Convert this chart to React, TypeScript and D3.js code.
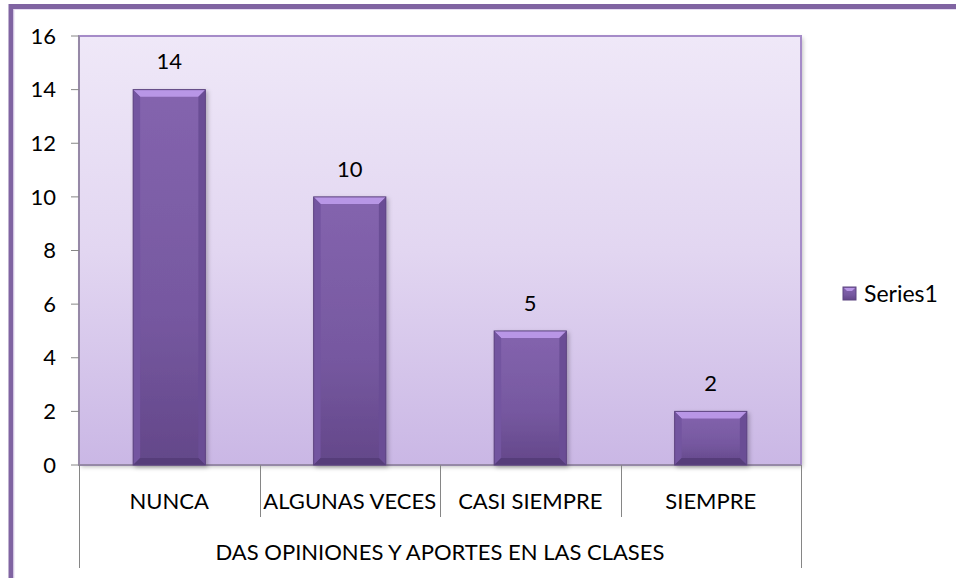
import React, { useRef, useEffect } from "react";
import { select, scaleLinear, scaleBand, range } from "d3";

const categories = ["NUNCA", "ALGUNAS VECES", "CASI SIEMPRE", "SIEMPRE"];
const values = [14, 10, 5, 2];
const yTicks = [0, 2, 4, 6, 8, 10, 12, 14, 16];
const groupLabel = "DAS OPINIONES Y APORTES EN LAS CLASES";
const seriesName = "Series1";

const FONT = "Lato, 'Open Sans', sans-serif";

const App = () => {
  const svgRef = useRef<SVGSVGElement>(null);

  useEffect(() => {
    const width = 956;
    const height = 578;
    const plot = { left: 79, top: 36, right: 801, bottom: 465 };

    const svg = select(svgRef.current).attr("width", width).attr("height", height);
    svg.selectAll("*").remove();

    const defs = svg.append("defs");

    const bg = defs
      .append("linearGradient")
      .attr("id", "plotBg")
      .attr("x1", 0)
      .attr("y1", 0)
      .attr("x2", 0)
      .attr("y2", 1);
    bg.append("stop").attr("offset", "0%").attr("stop-color", "#efe8f8");
    bg.append("stop").attr("offset", "50%").attr("stop-color", "#e2d6f1");
    bg.append("stop").attr("offset", "100%").attr("stop-color", "#cab7e5");

    const barGrad = defs
      .append("linearGradient")
      .attr("id", "barFill")
      .attr("x1", 0)
      .attr("y1", 0)
      .attr("x2", 0)
      .attr("y2", 1);
    barGrad.append("stop").attr("offset", "0%").attr("stop-color", "#8464ae");
    barGrad.append("stop").attr("offset", "60%").attr("stop-color", "#7658a0");
    barGrad.append("stop").attr("offset", "100%").attr("stop-color", "#634789");

    const shadow = defs
      .append("filter")
      .attr("id", "shadow")
      .attr("x", "-10%")
      .attr("y", "-10%")
      .attr("width", "130%")
      .attr("height", "130%");
    shadow
      .append("feDropShadow")
      .attr("dx", 2)
      .attr("dy", 2)
      .attr("stdDeviation", 2)
      .attr("flood-color", "#000")
      .attr("flood-opacity", 0.25);

    // outer frame of the chart area
    svg
      .append("rect")
      .attr("x", 11)
      .attr("y", 6.5)
      .attr("width", width + 20)
      .attr("height", height + 20)
      .attr("fill", "#fff")
      .attr("stroke", "#8064a2")
      .attr("stroke-width", 5);
    svg
      .append("rect")
      .attr("x", 14)
      .attr("y", 9.5)
      .attr("width", width + 20)
      .attr("height", height + 20)
      .attr("fill", "none")
      .attr("stroke", "#e6dcf2")
      .attr("stroke-width", 1);

    const x = scaleBand()
      .domain(categories)
      .range([plot.left, plot.right])
      .paddingInner(0.6)
      .paddingOuter(0.3);

    const band = scaleBand().domain(categories).range([plot.left, plot.right]);

    const y = scaleLinear().domain([0, 16]).range([plot.bottom, plot.top]);

    // plot area
    svg
      .append("rect")
      .attr("x", plot.left)
      .attr("y", plot.top)
      .attr("width", plot.right - plot.left)
      .attr("height", plot.bottom - plot.top)
      .attr("fill", "url(#plotBg)")
      .attr("filter", "url(#shadow)");
    svg
      .append("rect")
      .attr("x", plot.left)
      .attr("y", plot.top)
      .attr("width", plot.right - plot.left)
      .attr("height", plot.bottom - plot.top)
      .attr("fill", "none")
      .attr("stroke", "#a58bc8")
      .attr("stroke-width", 2);

    // y axis
    const yAxis = svg.append("g");
    yAxis
      .append("line")
      .attr("x1", plot.left)
      .attr("x2", plot.left)
      .attr("y1", plot.top)
      .attr("y2", plot.bottom)
      .attr("stroke", "#868686");
    yAxis
      .selectAll(".tick")
      .data(yTicks)
      .join("line")
      .attr("x1", plot.left - 8)
      .attr("x2", plot.left)
      .attr("y1", (d) => y(d))
      .attr("y2", (d) => y(d))
      .attr("stroke", "#868686");
    yAxis
      .selectAll(".lbl")
      .data(yTicks)
      .join("text")
      .attr("x", 56)
      .attr("y", (d) => y(d))
      .attr("dy", "0.35em")
      .attr("text-anchor", "end")
      .attr("font-family", FONT)
      .attr("font-size", 22)
      .attr("fill", "#000")
      .text((d) => d);

    // x axis with category dividers
    const xAxis = svg.append("g");
    xAxis
      .append("line")
      .attr("x1", plot.left)
      .attr("x2", plot.right)
      .attr("y1", plot.bottom)
      .attr("y2", plot.bottom)
      .attr("stroke", "#868686");
    const edges = range(categories.length + 1).map((i) =>
      i < categories.length ? band(categories[i])! : plot.right
    );
    xAxis
      .selectAll(".div")
      .data(edges)
      .join("line")
      .attr("x1", (d) => Math.round(d) + 0.5)
      .attr("x2", (d) => Math.round(d) + 0.5)
      .attr("y1", plot.bottom)
      .attr("y2", (d, i) => (i === 0 || i === categories.length ? 568 : 517))
      .attr("stroke", "#868686");
    xAxis
      .selectAll(".cat")
      .data(categories)
      .join("text")
      .attr("x", (d) => band(d)! + band.bandwidth() / 2)
      .attr("y", 501)
      .attr("dy", "0.35em")
      .attr("text-anchor", "middle")
      .attr("font-family", FONT)
      .attr("font-size", 22)
      .attr("fill", "#000")
      .text((d) => d);
    xAxis
      .append("text")
      .attr("x", (plot.left + plot.right) / 2)
      .attr("y", 552)
      .attr("dy", "0.35em")
      .attr("text-anchor", "middle")
      .attr("font-family", FONT)
      .attr("font-size", 22)
      .attr("fill", "#000")
      .text(groupLabel);

    // bars with bevel
    const bars = svg
      .selectAll(".bar")
      .data(values)
      .join("g")
      .attr("class", "bar")
      .attr("filter", "url(#shadow)");

    bars.each(function (v, i) {
      const g = select(this);
      const bx = x(categories[i])!;
      const bw = x.bandwidth();
      const by = y(v);
      const bh = y(0) - y(v);
      const b = Math.min(7, bh / 2);
      g.append("rect")
        .attr("x", bx)
        .attr("y", by)
        .attr("width", bw)
        .attr("height", bh)
        .attr("fill", "url(#barFill)");
      g.append("polygon")
        .attr(
          "points",
          `${bx},${by} ${bx + bw},${by} ${bx + bw - b},${by + b} ${bx + b},${by + b}`
        )
        .attr("fill", "#b896e6");
      g.append("polygon")
        .attr(
          "points",
          `${bx},${by} ${bx + b},${by + b} ${bx + b},${by + bh - b} ${bx},${by + bh}`
        )
        .attr("fill", "#7354a0");
      g.append("polygon")
        .attr(
          "points",
          `${bx + bw},${by} ${bx + bw - b},${by + b} ${bx + bw - b},${by + bh - b} ${bx + bw},${by + bh}`
        )
        .attr("fill", "#6b4e95");
      g.append("polygon")
        .attr(
          "points",
          `${bx},${by + bh} ${bx + b},${by + bh - b} ${bx + bw - b},${by + bh - b} ${bx + bw},${by + bh}`
        )
        .attr("fill", "#563c7a");
      g.append("rect")
        .attr("x", bx)
        .attr("y", by)
        .attr("width", bw)
        .attr("height", bh)
        .attr("fill", "none")
        .attr("stroke", "#5d4480")
        .attr("stroke-width", 1);
    });

    svg
      .selectAll(".val")
      .data(values)
      .join("text")
      .attr("x", (d, i) => x(categories[i])! + x.bandwidth() / 2)
      .attr("y", (d) => y(d) - 28)
      .attr("dy", "0.35em")
      .attr("text-anchor", "middle")
      .attr("font-family", FONT)
      .attr("font-size", 22)
      .attr("fill", "#000")
      .text((d) => d);

    // legend
    const legend = svg.append("g").attr("transform", "translate(843,287)");
    legend
      .append("rect")
      .attr("width", 13)
      .attr("height", 13)
      .attr("fill", "url(#barFill)")
      .attr("stroke", "#5d4480");
    legend
      .append("polygon")
      .attr("points", "1,1 12,1 9,4 4,4")
      .attr("fill", "#b896e6");
    legend
      .append("text")
      .attr("x", 21)
      .attr("y", 7)
      .attr("dy", "0.35em")
      .attr("font-family", FONT)
      .attr("font-size", 23)
      .attr("fill", "#000")
      .text(seriesName);
  }, []);

  return (
    <div style={{ position: "absolute", left: 0, top: 0 }}>
      <svg ref={svgRef} style={{ display: "block" }}></svg>
    </div>
  );
};

export default App;
